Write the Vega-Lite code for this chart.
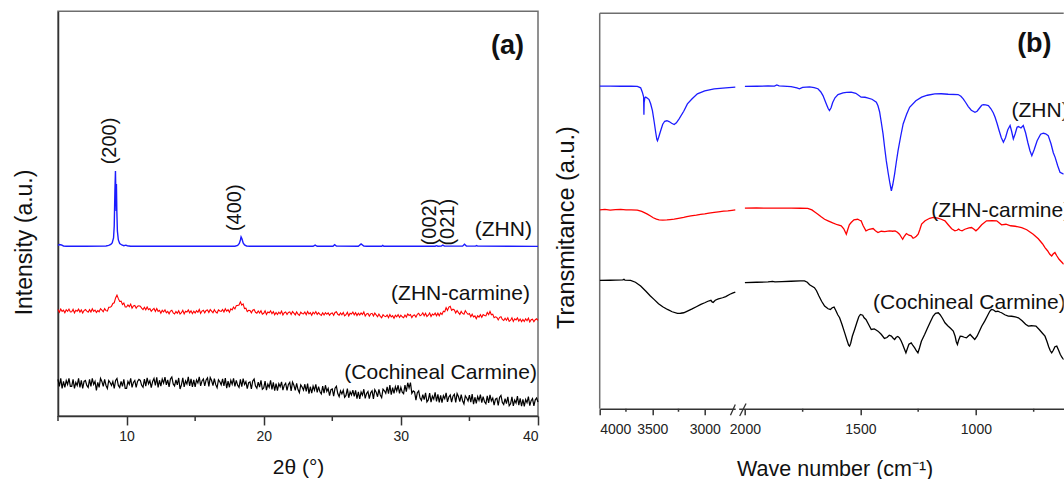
{
"$schema":"https://vega.github.io/schema/vega-lite/v6.json",
"padding":{"left":13,"top":10.25,"right":0,"bottom":0},
"background":"white",
"config":{"font":"Liberation Sans","axis":{"grid":false,"domainColor":"#333","domainWidth":1.5,"tickColor":"#333","tickWidth":1.5,"labelColor":"#222","labelFont":"Liberation Sans","labelFontSize":14,"titleFont":"Liberation Sans","titleFontWeight":"normal","titleColor":"#111"}},
"datasets":{
"xzhn":[{"t":5,"v":170.5},{"t":5.1,"v":171.5},{"t":5.25,"v":171},{"t":5.4,"v":170},{"t":5.6,"v":169.7},{"t":7,"v":169.7},{"t":8.5,"v":170},{"t":8.7,"v":170.5},{"t":8.85,"v":171.5},{"t":8.95,"v":173},{"t":9.05,"v":178},{"t":9.1,"v":190},{"t":9.15,"v":225},{"t":9.19,"v":245},{"t":9.22,"v":220},{"t":9.24,"v":205},{"t":9.26,"v":232},{"t":9.29,"v":205},{"t":9.33,"v":185},{"t":9.4,"v":176},{"t":9.5,"v":172.5},{"t":9.65,"v":171},{"t":9.8,"v":170.3},{"t":9.95,"v":170.8},{"t":10.05,"v":170.2},{"t":10.3,"v":169.7},{"t":17.9,"v":169.7},{"t":18.1,"v":170.5},{"t":18.22,"v":172.5},{"t":18.3,"v":176},{"t":18.35,"v":179},{"t":18.42,"v":177},{"t":18.5,"v":173},{"t":18.6,"v":171},{"t":18.75,"v":170},{"t":19,"v":169.7},{"t":23.6,"v":169.7},{"t":23.75,"v":170.8},{"t":23.9,"v":169.7},{"t":25.05,"v":169.7},{"t":25.17,"v":171.2},{"t":25.3,"v":169.8},{"t":26.9,"v":169.7},{"t":27.1,"v":172},{"t":27.3,"v":170},{"t":27.5,"v":169.7},{"t":28.6,"v":169.7},{"t":28.68,"v":170.5},{"t":28.76,"v":169.7},{"t":32.5,"v":169.7},{"t":32.6,"v":170.3},{"t":32.7,"v":169.7},{"t":32.95,"v":169.8},{"t":33.06,"v":170.8},{"t":33.18,"v":169.8},{"t":34.5,"v":169.8},{"t":34.64,"v":171.8},{"t":34.78,"v":169.9},{"t":35.45,"v":169.8},{"t":35.52,"v":170.4},{"t":35.6,"v":169.8},{"t":40,"v":169.6}],
"xcar":[{"t":5,"v":106.5},{"t":5.1,"v":103.8},{"t":5.2,"v":107},{"t":5.3,"v":104.5},{"t":5.4,"v":105.8},{"t":5.5,"v":103.2},{"t":5.6,"v":106.2},{"t":5.7,"v":104.7},{"t":5.8,"v":106.9},{"t":5.9,"v":104},
{"t":6,"v":104.2},{"t":6.1,"v":106.6},{"t":6.2,"v":103.1},{"t":6.3,"v":105.6},{"t":6.4,"v":104.8},{"t":6.5,"v":106.8},{"t":6.6,"v":103.9},{"t":6.7,"v":106},{"t":6.8,"v":103},{"t":6.9,"v":105.4},
{"t":7,"v":106.5},{"t":7.1,"v":104.8},{"t":7.2,"v":103.7},{"t":7.3,"v":106.3},{"t":7.4,"v":104},{"t":7.5,"v":107.2},{"t":7.6,"v":104.6},{"t":7.7,"v":105.9},{"t":7.8,"v":103.5},{"t":7.9,"v":105.3},
{"t":8,"v":104.2},{"t":8.1,"v":107.3},{"t":8.2,"v":105.8},{"t":8.3,"v":104.2},{"t":8.4,"v":107.3},{"t":8.5,"v":105.3},{"t":8.6,"v":104.8},{"t":8.7,"v":108.7},{"t":8.8,"v":108.7},{"t":8.9,"v":109.6},
{"t":9,"v":112.5},{"t":9.1,"v":113.2},{"t":9.2,"v":118},{"t":9.3,"v":120.8},{"t":9.4,"v":117.3},{"t":9.5,"v":114.5},{"t":9.6,"v":114.8},{"t":9.7,"v":111.4},{"t":9.8,"v":112.9},{"t":9.9,"v":109},
{"t":10,"v":109},{"t":10.1,"v":111},{"t":10.2,"v":109.3},{"t":10.3,"v":111.9},{"t":10.4,"v":107.8},{"t":10.5,"v":109.9},{"t":10.6,"v":110.4},{"t":10.7,"v":107.7},{"t":10.8,"v":109.8},{"t":10.9,"v":110.2},
{"t":11,"v":109.8},{"t":11.1,"v":107.8},{"t":11.2,"v":106.4},{"t":11.3,"v":108.7},{"t":11.4,"v":106.1},{"t":11.5,"v":109},{"t":11.6,"v":106.2},{"t":11.7,"v":107.3},{"t":11.8,"v":104.7},{"t":11.9,"v":106.3},
{"t":12,"v":107.5},{"t":12.1,"v":104.5},{"t":12.2,"v":107.4},{"t":12.3,"v":104.6},{"t":12.4,"v":105.6},{"t":12.5,"v":102.7},{"t":12.6,"v":105.6},{"t":12.7,"v":104},{"t":12.8,"v":106.1},{"t":12.9,"v":103.1},
{"t":13,"v":104.5},{"t":13.1,"v":102.2},{"t":13.2,"v":104.9},{"t":13.3,"v":105.6},{"t":13.4,"v":103},{"t":13.5,"v":102},{"t":13.6,"v":104.4},{"t":13.7,"v":102.6},{"t":13.8,"v":105.2},{"t":13.9,"v":101.9},
{"t":14,"v":103.2},{"t":14.1,"v":105.6},{"t":14.2,"v":102.1},{"t":14.3,"v":104.7},{"t":14.4,"v":103.9},{"t":14.5,"v":106},{"t":14.6,"v":103.1},{"t":14.7,"v":105.2},{"t":14.8,"v":102.3},{"t":14.9,"v":104.8},
{"t":15,"v":103},{"t":15.1,"v":105.2},{"t":15.2,"v":103.7},{"t":15.3,"v":106.5},{"t":15.4,"v":102.6},{"t":15.5,"v":104.9},{"t":15.6,"v":105.6},{"t":15.7,"v":103.1},{"t":15.8,"v":105.4},{"t":15.9,"v":106},
{"t":16,"v":103.4},{"t":16.1,"v":106.4},{"t":16.2,"v":104.9},{"t":16.3,"v":103.2},{"t":16.4,"v":106.2},{"t":16.5,"v":104},{"t":16.6,"v":102.9},{"t":16.7,"v":106},{"t":16.8,"v":104.9},{"t":16.9,"v":104.6},
{"t":17,"v":106.5},{"t":17.1,"v":103.9},{"t":17.2,"v":107.2},{"t":17.3,"v":104.8},{"t":17.4,"v":106.2},{"t":17.5,"v":103.7},{"t":17.6,"v":107.1},{"t":17.7,"v":106.1},{"t":17.8,"v":108.9},{"t":17.9,"v":107},
{"t":18,"v":110.3},{"t":18.1,"v":110.6},{"t":18.2,"v":111},{"t":18.3,"v":114.1},{"t":18.4,"v":110.8},{"t":18.5,"v":112},{"t":18.6,"v":107.4},{"t":18.7,"v":107.7},{"t":18.8,"v":104.3},{"t":18.9,"v":105.6},
{"t":19,"v":105.5},{"t":19.1,"v":103.1},{"t":19.2,"v":105.7},{"t":19.3,"v":106.4},{"t":19.4,"v":103.7},{"t":19.5,"v":102.8},{"t":19.6,"v":104.9},{"t":19.7,"v":102.9},{"t":19.8,"v":105.2},{"t":19.9,"v":101.7},
{"t":20,"v":102.7},{"t":20.1,"v":105.1},{"t":20.2,"v":101.5},{"t":20.3,"v":104},{"t":20.4,"v":103.2},{"t":20.5,"v":105.1},{"t":20.6,"v":102.2},{"t":20.7,"v":104.3},{"t":20.8,"v":101.2},{"t":20.9,"v":103.5},
{"t":21,"v":101.5},{"t":21.1,"v":103.7},{"t":21.2,"v":102.2},{"t":21.3,"v":104.9},{"t":21.4,"v":101},{"t":21.5,"v":103.2},{"t":21.6,"v":103.9},{"t":21.7,"v":101.4},{"t":21.8,"v":103.5},{"t":21.9,"v":104.1},
{"t":22,"v":101.4},{"t":22.1,"v":104.4},{"t":22.2,"v":102.8},{"t":22.3,"v":101.1},{"t":22.4,"v":104},{"t":22.5,"v":101.8},{"t":22.6,"v":100.6},{"t":22.7,"v":103.7},{"t":22.8,"v":102.5},{"t":22.9,"v":102.1},
{"t":23,"v":104},{"t":23.1,"v":101.3},{"t":23.2,"v":104.5},{"t":23.3,"v":102},{"t":23.4,"v":103.3},{"t":23.5,"v":100.7},{"t":23.6,"v":103.7},{"t":23.7,"v":102.2},{"t":23.8,"v":104.4},{"t":23.9,"v":101.5},
{"t":24,"v":103.3},{"t":24.1,"v":101.6},{"t":24.2,"v":100.6},{"t":24.3,"v":103.2},{"t":24.4,"v":101},{"t":24.5,"v":103.2},{"t":24.6,"v":101.7},{"t":24.7,"v":103},{"t":24.8,"v":100.6},{"t":24.9,"v":102.5},
{"t":25,"v":103},{"t":25.1,"v":100.7},{"t":25.2,"v":103.5},{"t":25.3,"v":104.2},{"t":25.4,"v":101.7},{"t":25.5,"v":100.8},{"t":25.6,"v":103},{"t":25.7,"v":101.1},{"t":25.8,"v":103.4},{"t":25.9,"v":100},
{"t":26,"v":101.2},{"t":26.1,"v":103.6},{"t":26.2,"v":100.1},{"t":26.3,"v":102.7},{"t":26.4,"v":101.9},{"t":26.5,"v":103.9},{"t":26.6,"v":101.1},{"t":26.7,"v":103.3},{"t":26.8,"v":100.4},{"t":26.9,"v":102.8},
{"t":27,"v":101},{"t":27.1,"v":103.1},{"t":27.2,"v":101.4},{"t":27.3,"v":104},{"t":27.4,"v":99.9},{"t":27.5,"v":102},{"t":27.6,"v":102.6},{"t":27.7,"v":99.9},{"t":27.8,"v":102.1},{"t":27.9,"v":102.6},
{"t":28,"v":99.9},{"t":28.1,"v":102.8},{"t":28.2,"v":101},{"t":28.3,"v":99.2},{"t":28.4,"v":101.9},{"t":28.5,"v":99.6},{"t":28.6,"v":98.2},{"t":28.7,"v":101.2},{"t":28.8,"v":99.8},{"t":28.9,"v":99.3},
{"t":29,"v":101},{"t":29.1,"v":98.3},{"t":29.2,"v":101.5},{"t":29.3,"v":99},{"t":29.4,"v":100.3},{"t":29.5,"v":97.7},{"t":29.6,"v":100.7},{"t":29.7,"v":99.2},{"t":29.8,"v":101.4},{"t":29.9,"v":98.5},
{"t":30,"v":100.8},{"t":30.1,"v":99.2},{"t":30.2,"v":98.2},{"t":30.3,"v":100.9},{"t":30.4,"v":98.9},{"t":30.5,"v":102},{"t":30.6,"v":100.5},{"t":30.7,"v":101.4},{"t":30.8,"v":98.3},{"t":30.9,"v":100.5},
{"t":31,"v":101},{"t":31.1,"v":98.8},{"t":31.2,"v":101.7},{"t":31.3,"v":102.6},{"t":31.4,"v":100.2},{"t":31.5,"v":101},{"t":31.6,"v":103.1},{"t":31.7,"v":100.2},{"t":31.8,"v":102.7},{"t":31.9,"v":99.4},
{"t":32,"v":100.7},{"t":32.1,"v":103},{"t":32.2,"v":99.4},{"t":32.3,"v":101.8},{"t":32.4,"v":100.9},{"t":32.5,"v":102.8},{"t":32.6,"v":100.2},{"t":32.7,"v":102.7},{"t":32.8,"v":100.2},{"t":32.9,"v":103},
{"t":33,"v":101.5},{"t":33.1,"v":104.7},{"t":33.2,"v":104.2},{"t":33.3,"v":108.3},{"t":33.4,"v":105.6},{"t":33.5,"v":108.9},{"t":33.6,"v":109.6},{"t":33.7,"v":105.6},{"t":33.8,"v":106.7},{"t":33.9,"v":106},
{"t":34,"v":102.9},{"t":34.1,"v":105.4},{"t":34.2,"v":103.3},{"t":34.3,"v":101.6},{"t":34.4,"v":104.5},{"t":34.5,"v":102.5},{"t":34.6,"v":101.7},{"t":34.7,"v":105.2},{"t":34.8,"v":103.2},{"t":34.9,"v":101.6},
{"t":35,"v":102.5},{"t":35.1,"v":99.3},{"t":35.2,"v":101.8},{"t":35.3,"v":99},{"t":35.4,"v":100},{"t":35.5,"v":97.2},{"t":35.6,"v":100.2},{"t":35.7,"v":98.9},{"t":35.8,"v":101.3},{"t":35.9,"v":98.7},
{"t":36,"v":101.3},{"t":36.1,"v":100.4},{"t":36.2,"v":100},{"t":36.3,"v":103.4},{"t":36.4,"v":101.3},{"t":36.5,"v":104.5},{"t":36.6,"v":101.2},{"t":36.7,"v":101.7},{"t":36.8,"v":98.3},{"t":36.9,"v":99.1},
{"t":37,"v":98.5},{"t":37.1,"v":96},{"t":37.2,"v":98.6},{"t":37.3,"v":99.2},{"t":37.4,"v":96.5},{"t":37.5,"v":95.5},{"t":37.6,"v":97.7},{"t":37.7,"v":95.7},{"t":37.8,"v":98.1},{"t":37.9,"v":94.6},
{"t":38,"v":95.7},{"t":38.1,"v":98.1},{"t":38.2,"v":94.5},{"t":38.3,"v":97.1},{"t":38.4,"v":96.1},{"t":38.5,"v":98.1},{"t":38.6,"v":94.9},{"t":38.7,"v":96.9},{"t":38.8,"v":94.3},{"t":38.9,"v":96.5},
{"t":39,"v":94.5},{"t":39.1,"v":97.2},{"t":39.2,"v":95.2},{"t":39.3,"v":97.9},{"t":39.4,"v":94},{"t":39.5,"v":96.2},{"t":39.6,"v":96.8},{"t":39.7,"v":94.3},{"t":39.8,"v":96.2},{"t":39.9,"v":97.1},{"t":40,"v":95.5}],
"xcoc":[{"t":5,"v":36.5},{"t":5.1,"v":29.5},{"t":5.2,"v":37.5},{"t":5.3,"v":27.5},{"t":5.4,"v":34.5},{"t":5.5,"v":28.5},{"t":5.6,"v":35.5},{"t":5.7,"v":31.5},{"t":5.8,"v":37.5},{"t":5.9,"v":29.5},
{"t":6,"v":29.5},{"t":6.1,"v":36.5},{"t":6.2,"v":27.5},{"t":6.3,"v":33.5},{"t":6.4,"v":30.5},{"t":6.5,"v":37.5},{"t":6.6,"v":28.5},{"t":6.7,"v":35.5},{"t":6.8,"v":27.5},{"t":6.9,"v":34.5},
{"t":7,"v":35.5},{"t":7.1,"v":30.5},{"t":7.2,"v":28.5},{"t":7.3,"v":36.5},{"t":7.4,"v":29.5},{"t":7.5,"v":37.5},{"t":7.6,"v":31.5},{"t":7.7,"v":34.5},{"t":7.8,"v":25.5},{"t":7.9,"v":33.5},
{"t":8,"v":28.5},{"t":8.1,"v":37.5},{"t":8.2,"v":34.5},{"t":8.3,"v":29.5},{"t":8.4,"v":36.5},{"t":8.5,"v":30.5},{"t":8.6,"v":27.5},{"t":8.7,"v":35.5},{"t":8.8,"v":33.5},{"t":8.9,"v":30.5},
{"t":9,"v":34.5},{"t":9.1,"v":27.5},{"t":9.2,"v":35.5},{"t":9.3,"v":37.5},{"t":9.4,"v":30.5},{"t":9.5,"v":28.5},{"t":9.6,"v":34.5},{"t":9.7,"v":29.5},{"t":9.8,"v":36.5},{"t":9.9,"v":27.5},
{"t":10,"v":27.5},{"t":10.1,"v":34.5},{"t":10.2,"v":31.5},{"t":10.3,"v":37.5},{"t":10.4,"v":28.5},{"t":10.5,"v":33.5},{"t":10.6,"v":35.5},{"t":10.7,"v":28.5},{"t":10.8,"v":34.5},{"t":10.9,"v":36.5},
{"t":11,"v":35.5},{"t":11.1,"v":30.6},{"t":11.2,"v":28.7},{"t":11.3,"v":36.8},{"t":11.4,"v":29.9},{"t":11.5,"v":38},{"t":11.6,"v":32.1},{"t":11.7,"v":35.2},{"t":11.8,"v":28.3},{"t":11.9,"v":34.4},
{"t":12,"v":37.5},{"t":12.1,"v":30.6},{"t":12.2,"v":38.6},{"t":12.3,"v":28.6},{"t":12.4,"v":35.7},{"t":12.5,"v":29.8},{"t":12.6,"v":36.8},{"t":12.7,"v":32.8},{"t":12.8,"v":38.9},{"t":12.9,"v":31},
{"t":13,"v":36},{"t":13.1,"v":29},{"t":13.2,"v":37},{"t":13.3,"v":39},{"t":13.4,"v":32},{"t":13.5,"v":30},{"t":13.6,"v":36},{"t":13.7,"v":31},{"t":13.8,"v":38},{"t":13.9,"v":27},
{"t":14,"v":31},{"t":14.1,"v":38},{"t":14.2,"v":29},{"t":14.3,"v":35},{"t":14.4,"v":32},{"t":14.5,"v":39},{"t":14.6,"v":30},{"t":14.7,"v":37},{"t":14.8,"v":29},{"t":14.9,"v":36},
{"t":15,"v":29},{"t":15.1,"v":36},{"t":15.2,"v":33},{"t":15.3,"v":39},{"t":15.4,"v":30},{"t":15.5,"v":35},{"t":15.6,"v":37},{"t":15.7,"v":30},{"t":15.8,"v":36},{"t":15.9,"v":38},
{"t":16,"v":29.5},{"t":16.1,"v":38.4},{"t":16.2,"v":35.4},{"t":16.3,"v":30.3},{"t":16.4,"v":37.3},{"t":16.5,"v":31.3},{"t":16.6,"v":28.3},{"t":16.7,"v":36.2},{"t":16.8,"v":34.2},{"t":16.9,"v":31.1},
{"t":17,"v":37},{"t":17.1,"v":30},{"t":17.2,"v":37.9},{"t":17.3,"v":27.9},{"t":17.4,"v":34.8},{"t":17.5,"v":28.7},{"t":17.6,"v":35.7},{"t":17.7,"v":31.7},{"t":17.8,"v":37.6},{"t":17.9,"v":29.6},
{"t":18,"v":35.6},{"t":18.1,"v":30.6},{"t":18.2,"v":28.5},{"t":18.3,"v":36.5},{"t":18.4,"v":29.4},{"t":18.5,"v":37.4},{"t":18.6,"v":31.4},{"t":18.7,"v":34.3},{"t":18.8,"v":27.3},{"t":18.9,"v":33.2},
{"t":19,"v":34},{"t":19.1,"v":27},{"t":19.2,"v":35},{"t":19.3,"v":36.9},{"t":19.4,"v":29.9},{"t":19.5,"v":27.8},{"t":19.6,"v":33.8},{"t":19.7,"v":28.8},{"t":19.8,"v":35.7},{"t":19.9,"v":26.7},
{"t":20,"v":28},{"t":20.1,"v":34.9},{"t":20.2,"v":25.9},{"t":20.3,"v":31.8},{"t":20.4,"v":28.7},{"t":20.5,"v":35.7},{"t":20.6,"v":26.6},{"t":20.7,"v":33.5},{"t":20.8,"v":25.4},{"t":20.9,"v":32.4},
{"t":21,"v":25.3},{"t":21.1,"v":32.2},{"t":21.2,"v":29.1},{"t":21.3,"v":34},{"t":21.4,"v":25.9},{"t":21.5,"v":30.8},{"t":21.6,"v":32.7},{"t":21.7,"v":25.6},{"t":21.8,"v":31.5},{"t":21.9,"v":33.6},
{"t":22,"v":25},{"t":22.1,"v":33.9},{"t":22.2,"v":30.7},{"t":22.3,"v":25.6},{"t":22.4,"v":32.5},{"t":22.5,"v":26.4},{"t":22.6,"v":23.2},{"t":22.7,"v":31.1},{"t":22.8,"v":29},{"t":22.9,"v":25.8},
{"t":23,"v":31.7},{"t":23.1,"v":24.6},{"t":23.2,"v":32.4},{"t":23.3,"v":22.3},{"t":23.4,"v":29.2},{"t":23.5,"v":22.9},{"t":23.6,"v":29.8},{"t":23.7,"v":25.7},{"t":23.8,"v":31.6},{"t":23.9,"v":23.5},
{"t":24,"v":29.3},{"t":24.1,"v":24.2},{"t":24.2,"v":22},{"t":24.3,"v":29.9},{"t":24.4,"v":22.8},{"t":24.5,"v":30.7},{"t":24.6,"v":24.6},{"t":24.7,"v":27.5},{"t":24.8,"v":20.4},{"t":24.9,"v":26.2},
{"t":25,"v":27},{"t":25.1,"v":19.9},{"t":25.2,"v":27.7},{"t":25.3,"v":29.6},{"t":25.4,"v":22.4},{"t":25.5,"v":19.3},{"t":25.6,"v":25.1},{"t":25.7,"v":22},{"t":25.8,"v":25.8},{"t":25.9,"v":18.7},
{"t":26,"v":20.5},{"t":26.1,"v":27.4},{"t":26.2,"v":18.2},{"t":26.3,"v":24.1},{"t":26.4,"v":20.9},{"t":26.5,"v":25.8},{"t":26.6,"v":19.6},{"t":26.7,"v":25.5},{"t":26.8,"v":17.3},{"t":26.9,"v":24.2},
{"t":27,"v":17},{"t":27.1,"v":23.9},{"t":27.2,"v":20.8},{"t":27.3,"v":26.7},{"t":27.4,"v":17.6},{"t":27.5,"v":22.5},{"t":27.6,"v":24.4},{"t":27.7,"v":17.3},{"t":27.8,"v":23.2},{"t":27.9,"v":25.1},
{"t":28,"v":17},{"t":28.1,"v":26.4},{"t":28.2,"v":23.8},{"t":28.3,"v":19.2},{"t":28.4,"v":26.6},{"t":28.5,"v":21},{"t":28.6,"v":18.4},{"t":28.7,"v":26.8},{"t":28.8,"v":25.2},{"t":28.9,"v":22.6},
{"t":29,"v":29},{"t":29.1,"v":22.4},{"t":29.2,"v":30.8},{"t":29.3,"v":21.2},{"t":29.4,"v":28.4},{"t":29.5,"v":22.5},{"t":29.6,"v":29.3},{"t":29.7,"v":25},{"t":29.8,"v":30.7},{"t":29.9,"v":22.6},
{"t":30,"v":28.5},{"t":30.1,"v":23.8},{"t":30.2,"v":22.3},{"t":30.3,"v":30.8},{"t":30.4,"v":24.4},{"t":30.5,"v":33.2},{"t":30.6,"v":28},{"t":30.7,"v":33.3},{"t":30.8,"v":22.5},{"t":30.9,"v":25},
{"t":31,"v":24},{"t":31.1,"v":15.8},{"t":31.2,"v":23.2},{"t":31.3,"v":25},{"t":31.4,"v":17.8},{"t":31.5,"v":15.6},{"t":31.6,"v":21.4},{"t":31.7,"v":16.3},{"t":31.8,"v":23.2},{"t":31.9,"v":14.1},
{"t":32,"v":16},{"t":32.1,"v":22.9},{"t":32.2,"v":13.9},{"t":32.3,"v":19.8},{"t":32.4,"v":16.8},{"t":32.5,"v":23.7},{"t":32.6,"v":14.6},{"t":32.7,"v":21.6},{"t":32.8,"v":13.5},{"t":32.9,"v":20.5},
{"t":33,"v":13.3},{"t":33.1,"v":20.2},{"t":33.2,"v":17.2},{"t":33.3,"v":23.1},{"t":33.4,"v":14.1},{"t":33.5,"v":19},{"t":33.6,"v":20.9},{"t":33.7,"v":13.9},{"t":33.8,"v":19.8},{"t":33.9,"v":21.7},
{"t":34,"v":13.5},{"t":34.1,"v":22.4},{"t":34.2,"v":19.4},{"t":34.3,"v":14.3},{"t":34.4,"v":21.3},{"t":34.5,"v":15.2},{"t":34.6,"v":12.1},{"t":34.7,"v":20.1},{"t":34.8,"v":18},{"t":34.9,"v":15},
{"t":35,"v":20.9},{"t":35.1,"v":13.8},{"t":35.2,"v":21.8},{"t":35.3,"v":11.7},{"t":35.4,"v":18.7},{"t":35.5,"v":12.6},{"t":35.6,"v":19.5},{"t":35.7,"v":15.5},{"t":35.8,"v":21.4},{"t":35.9,"v":13.4},
{"t":36,"v":19.3},{"t":36.1,"v":14.2},{"t":36.2,"v":12.2},{"t":36.3,"v":20.1},{"t":36.4,"v":13.1},{"t":36.5,"v":21},{"t":36.6,"v":15},{"t":36.7,"v":17.9},{"t":36.8,"v":10.8},{"t":36.9,"v":16.8},
{"t":37,"v":17.7},{"t":37.1,"v":10.6},{"t":37.2,"v":18.6},{"t":37.3,"v":20.5},{"t":37.4,"v":13.5},{"t":37.5,"v":11.4},{"t":37.6,"v":17.3},{"t":37.7,"v":12.3},{"t":37.8,"v":19.2},{"t":37.9,"v":10.2},
{"t":38,"v":12.1},{"t":38.1,"v":19},{"t":38.2,"v":10},{"t":38.3,"v":15.9},{"t":38.4,"v":12.9},{"t":38.5,"v":19.8},{"t":38.6,"v":10.8},{"t":38.7,"v":17.7},{"t":38.8,"v":9.7},{"t":38.9,"v":16.6},
{"t":39,"v":9.5},{"t":39.1,"v":16.4},{"t":39.2,"v":13.3},{"t":39.3,"v":19.3},{"t":39.4,"v":10.3},{"t":39.5,"v":15.3},{"t":39.6,"v":17.3},{"t":39.7,"v":10.1},{"t":39.8,"v":16.1},{"t":39.9,"v":18},{"t":40,"v":14}],
"fzhn":[{"w":4000,"v":322.6,"g":"L"},{"w":3900,"v":322.7,"g":"L"},{"w":3800,"v":322.5,"g":"L"},{"w":3700,"v":322.6,"g":"L"},{"w":3642,"v":322.4,"g":"L"},{"w":3625,"v":321.6,"g":"L"},{"w":3610,"v":320.9,"g":"L"},{"w":3594,"v":316.6,"g":"L"},{"w":3582,"v":312,"g":"L"},{"w":3579,"v":294,"g":"L"},{"w":3577,"v":306,"g":"L"},{"w":3570,"v":311,"g":"L"},{"w":3562,"v":311.6,"g":"L"},{"w":3545,"v":310.5,"g":"L"},{"w":3530,"v":309.2,"g":"L"},{"w":3515,"v":305,"g":"L"},{"w":3498,"v":298.2,"g":"L"},{"w":3480,"v":286,"g":"L"},{"w":3467,"v":276.5,"g":"L"},{"w":3456,"v":269.5,"g":"L"},{"w":3450,"v":268.1,"g":"L"},{"w":3440,"v":271,"g":"L"},{"w":3419,"v":278.2,"g":"L"},{"w":3400,"v":284.5,"g":"L"},{"w":3381,"v":287.5,"g":"L"},{"w":3360,"v":288,"g":"L"},{"w":3339,"v":287.2,"g":"L"},{"w":3315,"v":285.5,"g":"L"},{"w":3291,"v":284.2,"g":"L"},{"w":3270,"v":286,"g":"L"},{"w":3244,"v":289.9,"g":"L"},{"w":3200,"v":297.5,"g":"L"},{"w":3165,"v":304.9,"g":"L"},{"w":3120,"v":310,"g":"L"},{"w":3070,"v":314.9,"g":"L"},{"w":3000,"v":317.8,"g":"L"},{"w":2910,"v":319.9,"g":"L"},{"w":2800,"v":320.8,"g":"L"},{"w":2709,"v":321.6,"g":"L"},
{"w":2000,"v":322.3,"g":"R"},{"w":1950,"v":322.5,"g":"R"},{"w":1900,"v":322.8,"g":"R"},{"w":1872,"v":322.6,"g":"R"},{"w":1862,"v":323.8,"g":"R"},{"w":1852,"v":322.8,"g":"R"},{"w":1800,"v":322.2,"g":"R"},{"w":1775,"v":320.8,"g":"R"},{"w":1764,"v":319.9,"g":"R"},{"w":1750,"v":321.3,"g":"R"},{"w":1720,"v":321.8,"g":"R"},{"w":1700,"v":321.2,"g":"R"},{"w":1684,"v":320,"g":"R"},{"w":1672,"v":317,"g":"R"},{"w":1662,"v":313.2,"g":"R"},{"w":1648,"v":305,"g":"R"},{"w":1640,"v":300.5,"g":"R"},{"w":1634,"v":298.2,"g":"R"},{"w":1627,"v":301,"g":"R"},{"w":1620,"v":306.2,"g":"R"},{"w":1610,"v":311,"g":"R"},{"w":1597,"v":314.2,"g":"R"},{"w":1575,"v":315.8,"g":"R"},{"w":1560,"v":316.4,"g":"R"},{"w":1540,"v":316.6,"g":"R"},{"w":1520,"v":315.5,"g":"R"},{"w":1505,"v":313,"g":"R"},{"w":1497,"v":311.6,"g":"R"},{"w":1480,"v":311.5,"g":"R"},{"w":1470,"v":310.9,"g":"R"},{"w":1450,"v":309.5,"g":"R"},{"w":1431,"v":306.6,"g":"R"},{"w":1424,"v":303,"g":"R"},{"w":1417,"v":297,"g":"R"},{"w":1410,"v":287,"g":"R"},{"w":1402,"v":274.8,"g":"R"},{"w":1395,"v":261,"g":"R"},{"w":1388,"v":248.1,"g":"R"},{"w":1380,"v":236,"g":"R"},{"w":1372,"v":225,"g":"R"},{"w":1366,"v":218,"g":"R"},{"w":1360,"v":224,"g":"R"},{"w":1352,"v":234.7,"g":"R"},{"w":1345,"v":246,"g":"R"},{"w":1337,"v":258.1,"g":"R"},{"w":1326,"v":272,"g":"R"},{"w":1315,"v":284.8,"g":"R"},{"w":1300,"v":294.5,"g":"R"},{"w":1287,"v":301.5,"g":"R"},{"w":1260,"v":308,"g":"R"},{"w":1235,"v":311.6,"g":"R"},{"w":1210,"v":313.5,"g":"R"},{"w":1178,"v":314.9,"g":"R"},{"w":1150,"v":315,"g":"R"},{"w":1120,"v":314.5,"g":"R"},{"w":1077,"v":314.2,"g":"R"},{"w":1065,"v":312.5,"g":"R"},{"w":1055,"v":309.9,"g":"R"},{"w":1045,"v":306.5,"g":"R"},{"w":1033,"v":302.2,"g":"R"},{"w":1020,"v":298.5,"g":"R"},{"w":1004,"v":296.5,"g":"R"},{"w":995,"v":297.5,"g":"R"},{"w":985,"v":300.5,"g":"R"},{"w":975,"v":303.5,"g":"R"},{"w":968,"v":304.2,"g":"R"},{"w":958,"v":303.8,"g":"R"},{"w":946,"v":303.2,"g":"R"},{"w":935,"v":300,"g":"R"},{"w":925,"v":296,"g":"R"},{"w":917,"v":291.5,"g":"R"},{"w":908,"v":285,"g":"R"},{"w":900,"v":278.5,"g":"R"},{"w":890,"v":271,"g":"R"},{"w":881,"v":266.5,"g":"R"},{"w":872,"v":271,"g":"R"},{"w":862,"v":279,"g":"R"},{"w":852,"v":283.2,"g":"R"},{"w":846,"v":278,"g":"R"},{"w":838,"v":269.8,"g":"R"},{"w":830,"v":275,"g":"R"},{"w":822,"v":281.5,"g":"R"},{"w":816,"v":282.2,"g":"R"},{"w":805,"v":280.8,"g":"R"},{"w":795,"v":283.2,"g":"R"},{"w":785,"v":276,"g":"R"},{"w":775,"v":266,"g":"R"},{"w":766,"v":258,"g":"R"},{"w":758,"v":253.1,"g":"R"},{"w":748,"v":259,"g":"R"},{"w":735,"v":268,"g":"R"},{"w":720,"v":274.5,"g":"R"},{"w":708,"v":275.5,"g":"R"},{"w":698,"v":275,"g":"R"},{"w":687,"v":273.1,"g":"R"},{"w":675,"v":265,"g":"R"},{"w":665,"v":256,"g":"R"},{"w":657,"v":251.4,"g":"R"},{"w":646,"v":243,"g":"R"},{"w":636,"v":236.5,"g":"R"},{"w":620,"v":234.7,"g":"R"}],
"fcar":[{"w":4000,"v":198.9,"g":"L"},{"w":3950,"v":199.3,"g":"L"},{"w":3900,"v":198.7,"g":"L"},{"w":3850,"v":199.1,"g":"L"},{"w":3800,"v":199.3,"g":"L"},{"w":3750,"v":198.8,"g":"L"},{"w":3700,"v":198.9,"g":"L"},{"w":3642,"v":198.7,"g":"L"},{"w":3600,"v":197.3,"g":"L"},{"w":3570,"v":195.8,"g":"L"},{"w":3546,"v":194.6,"g":"L"},{"w":3520,"v":193,"g":"L"},{"w":3490,"v":191,"g":"L"},{"w":3460,"v":189.6,"g":"L"},{"w":3435,"v":188.9,"g":"L"},{"w":3400,"v":188.6,"g":"L"},{"w":3360,"v":188.9,"g":"L"},{"w":3330,"v":189.2,"g":"L"},{"w":3291,"v":189.6,"g":"L"},{"w":3250,"v":190.4,"g":"L"},{"w":3200,"v":191.3,"g":"L"},{"w":3170,"v":192.1,"g":"L"},{"w":3132,"v":192.9,"g":"L"},{"w":3080,"v":193.6,"g":"L"},{"w":3040,"v":194.3,"g":"L"},{"w":3000,"v":194.8,"g":"L"},{"w":2960,"v":195.6,"g":"L"},{"w":2910,"v":196.3,"g":"L"},{"w":2870,"v":196.9,"g":"L"},{"w":2820,"v":197.6,"g":"L"},{"w":2780,"v":197.8,"g":"L"},{"w":2740,"v":198.4,"g":"L"},{"w":2709,"v":198.9,"g":"L"},
{"w":2000,"v":200.6,"g":"R"},{"w":1950,"v":200.8,"g":"R"},{"w":1900,"v":200.6,"g":"R"},{"w":1850,"v":200.7,"g":"R"},{"w":1800,"v":200.6,"g":"R"},{"w":1760,"v":200.5,"g":"R"},{"w":1728,"v":200.4,"g":"R"},{"w":1710,"v":198.8,"g":"R"},{"w":1696,"v":196.5,"g":"R"},{"w":1684,"v":194.6,"g":"R"},{"w":1670,"v":192,"g":"R"},{"w":1655,"v":189.5,"g":"R"},{"w":1640,"v":187.9,"g":"R"},{"w":1620,"v":185.8,"g":"R"},{"w":1600,"v":184,"g":"R"},{"w":1583,"v":182.9,"g":"R"},{"w":1572,"v":180,"g":"R"},{"w":1565,"v":176.5,"g":"R"},{"w":1561,"v":174.5,"g":"R"},{"w":1555,"v":179,"g":"R"},{"w":1548,"v":184,"g":"R"},{"w":1540,"v":186.2,"g":"R"},{"w":1528,"v":189,"g":"R"},{"w":1512,"v":189.5,"g":"R"},{"w":1503,"v":188.5,"g":"R"},{"w":1497,"v":187.9,"g":"R"},{"w":1488,"v":183,"g":"R"},{"w":1476,"v":177.9,"g":"R"},{"w":1462,"v":179.5,"g":"R"},{"w":1445,"v":180.2,"g":"R"},{"w":1435,"v":178,"g":"R"},{"w":1424,"v":176.2,"g":"R"},{"w":1410,"v":177.5,"g":"R"},{"w":1395,"v":177.2,"g":"R"},{"w":1374,"v":177.9,"g":"R"},{"w":1360,"v":177.5,"g":"R"},{"w":1350,"v":177.9,"g":"R"},{"w":1340,"v":176.5,"g":"R"},{"w":1331,"v":174.5,"g":"R"},{"w":1324,"v":172,"g":"R"},{"w":1317,"v":169.5,"g":"R"},{"w":1310,"v":172.5,"g":"R"},{"w":1301,"v":175.2,"g":"R"},{"w":1290,"v":173.5,"g":"R"},{"w":1280,"v":172.9,"g":"R"},{"w":1272,"v":170.5,"g":"R"},{"w":1265,"v":171.2,"g":"R"},{"w":1258,"v":172.5,"g":"R"},{"w":1250,"v":174.5,"g":"R"},{"w":1243,"v":179,"g":"R"},{"w":1235,"v":184.6,"g":"R"},{"w":1220,"v":188,"g":"R"},{"w":1200,"v":190.5,"g":"R"},{"w":1185,"v":191.3,"g":"R"},{"w":1165,"v":190.6,"g":"R"},{"w":1150,"v":189.5,"g":"R"},{"w":1134,"v":187.9,"g":"R"},{"w":1120,"v":184,"g":"R"},{"w":1105,"v":180,"g":"R"},{"w":1091,"v":177.9,"g":"R"},{"w":1082,"v":178.5,"g":"R"},{"w":1075,"v":179.6,"g":"R"},{"w":1068,"v":178.5,"g":"R"},{"w":1060,"v":177.9,"g":"R"},{"w":1048,"v":179.5,"g":"R"},{"w":1030,"v":180.8,"g":"R"},{"w":1019,"v":181.2,"g":"R"},{"w":1008,"v":179.5,"g":"R"},{"w":1000,"v":177.9,"g":"R"},{"w":990,"v":180,"g":"R"},{"w":975,"v":184,"g":"R"},{"w":954,"v":187.9,"g":"R"},{"w":930,"v":188.2,"g":"R"},{"w":910,"v":187.9,"g":"R"},{"w":889,"v":183.9,"g":"R"},{"w":870,"v":184.5,"g":"R"},{"w":850,"v":183,"g":"R"},{"w":830,"v":182.5,"g":"R"},{"w":802,"v":181.2,"g":"R"},{"w":780,"v":179,"g":"R"},{"w":752,"v":174.5,"g":"R"},{"w":730,"v":170,"g":"R"},{"w":712,"v":165,"g":"R"},{"w":701,"v":161.2,"g":"R"},{"w":690,"v":158,"g":"R"},{"w":680,"v":154.5,"g":"R"},{"w":672,"v":152.8,"g":"R"},{"w":665,"v":155,"g":"R"},{"w":658,"v":156.2,"g":"R"},{"w":650,"v":153,"g":"R"},{"w":640,"v":149.5,"g":"R"},{"w":630,"v":147,"g":"R"},{"w":620,"v":144.5,"g":"R"}],
"fcoc":[{"w":4000,"v":128.4,"g":"L"},{"w":3900,"v":128.5,"g":"L"},{"w":3850,"v":128.6,"g":"L"},{"w":3780,"v":128.8,"g":"L"},{"w":3769,"v":129.4,"g":"L"},{"w":3760,"v":128.7,"g":"L"},{"w":3706,"v":128.4,"g":"L"},{"w":3660,"v":126.5,"g":"L"},{"w":3610,"v":122.8,"g":"L"},{"w":3560,"v":117.5,"g":"L"},{"w":3520,"v":113,"g":"L"},{"w":3483,"v":109.4,"g":"L"},{"w":3440,"v":105,"g":"L"},{"w":3400,"v":102,"g":"L"},{"w":3355,"v":99.3,"g":"L"},{"w":3310,"v":97,"g":"L"},{"w":3260,"v":95.3,"g":"L"},{"w":3230,"v":95.5,"g":"L"},{"w":3200,"v":96,"g":"L"},{"w":3165,"v":97.7,"g":"L"},{"w":3120,"v":99.8,"g":"L"},{"w":3080,"v":102,"g":"L"},{"w":3037,"v":104.4,"g":"L"},{"w":3000,"v":106,"g":"L"},{"w":2970,"v":107.5,"g":"L"},{"w":2941,"v":108.4,"g":"L"},{"w":2930,"v":106.8,"g":"L"},{"w":2920,"v":106.3,"g":"L"},{"w":2900,"v":108.5,"g":"L"},{"w":2870,"v":109.8,"g":"L"},{"w":2830,"v":111,"g":"L"},{"w":2800,"v":112.2,"g":"L"},{"w":2760,"v":114.5,"g":"L"},{"w":2730,"v":115.8,"g":"L"},{"w":2709,"v":116.7,"g":"L"},
{"w":2000,"v":126.1,"g":"R"},{"w":1950,"v":126.5,"g":"R"},{"w":1900,"v":126.8,"g":"R"},{"w":1880,"v":127.3,"g":"R"},{"w":1870,"v":126.9,"g":"R"},{"w":1840,"v":127.2,"g":"R"},{"w":1800,"v":127.5,"g":"R"},{"w":1760,"v":127.8,"g":"R"},{"w":1742,"v":127.8,"g":"R"},{"w":1730,"v":126.5,"g":"R"},{"w":1720,"v":124,"g":"R"},{"w":1699,"v":121.1,"g":"R"},{"w":1690,"v":118,"g":"R"},{"w":1680,"v":113,"g":"R"},{"w":1668,"v":107.5,"g":"R"},{"w":1655,"v":102.7,"g":"R"},{"w":1640,"v":100,"g":"R"},{"w":1630,"v":99.3,"g":"R"},{"w":1622,"v":101,"g":"R"},{"w":1614,"v":101.7,"g":"R"},{"w":1605,"v":97.5,"g":"R"},{"w":1598,"v":94,"g":"R"},{"w":1590,"v":91,"g":"R"},{"w":1580,"v":84.5,"g":"R"},{"w":1568,"v":75.9,"g":"R"},{"w":1558,"v":68.5,"g":"R"},{"w":1551,"v":63.5,"g":"R"},{"w":1547,"v":62.6,"g":"R"},{"w":1542,"v":65.5,"g":"R"},{"w":1535,"v":72.5,"g":"R"},{"w":1525,"v":79.3,"g":"R"},{"w":1515,"v":86.5,"g":"R"},{"w":1507,"v":92,"g":"R"},{"w":1500,"v":94.3,"g":"R"},{"w":1490,"v":93.5,"g":"R"},{"w":1484,"v":91,"g":"R"},{"w":1476,"v":89.3,"g":"R"},{"w":1465,"v":84.5,"g":"R"},{"w":1453,"v":79.3,"g":"R"},{"w":1440,"v":79.8,"g":"R"},{"w":1432,"v":78.8,"g":"R"},{"w":1424,"v":77.6,"g":"R"},{"w":1410,"v":74.5,"g":"R"},{"w":1396,"v":70.3,"g":"R"},{"w":1385,"v":71.2,"g":"R"},{"w":1375,"v":73.5,"g":"R"},{"w":1366,"v":72.6,"g":"R"},{"w":1358,"v":70.5,"g":"R"},{"w":1352,"v":69.3,"g":"R"},{"w":1345,"v":71.5,"g":"R"},{"w":1338,"v":72.3,"g":"R"},{"w":1331,"v":70.9,"g":"R"},{"w":1324,"v":68,"g":"R"},{"w":1317,"v":64.3,"g":"R"},{"w":1310,"v":60,"g":"R"},{"w":1303,"v":55.9,"g":"R"},{"w":1297,"v":60,"g":"R"},{"w":1290,"v":64.5,"g":"R"},{"w":1280,"v":65.9,"g":"R"},{"w":1272,"v":63,"g":"R"},{"w":1265,"v":60.9,"g":"R"},{"w":1258,"v":58,"g":"R"},{"w":1251,"v":55.9,"g":"R"},{"w":1244,"v":61,"g":"R"},{"w":1236,"v":67.5,"g":"R"},{"w":1222,"v":74.3,"g":"R"},{"w":1210,"v":80.5,"g":"R"},{"w":1197,"v":87,"g":"R"},{"w":1185,"v":92.7,"g":"R"},{"w":1175,"v":95.5,"g":"R"},{"w":1163,"v":96,"g":"R"},{"w":1155,"v":94,"g":"R"},{"w":1145,"v":90.5,"g":"R"},{"w":1134,"v":86,"g":"R"},{"w":1122,"v":83,"g":"R"},{"w":1110,"v":80.5,"g":"R"},{"w":1098,"v":77.6,"g":"R"},{"w":1090,"v":72.5,"g":"R"},{"w":1085,"v":67,"g":"R"},{"w":1080,"v":64.3,"g":"R"},{"w":1075,"v":68.5,"g":"R"},{"w":1068,"v":72.6,"g":"R"},{"w":1060,"v":72.3,"g":"R"},{"w":1050,"v":71.5,"g":"R"},{"w":1041,"v":70.9,"g":"R"},{"w":1034,"v":72.5,"g":"R"},{"w":1025,"v":74.3,"g":"R"},{"w":1016,"v":72,"g":"R"},{"w":1005,"v":69.3,"g":"R"},{"w":995,"v":72.5,"g":"R"},{"w":985,"v":77.5,"g":"R"},{"w":975,"v":82.5,"g":"R"},{"w":962,"v":87.6,"g":"R"},{"w":950,"v":93,"g":"R"},{"w":940,"v":97.5,"g":"R"},{"w":933,"v":99.3,"g":"R"},{"w":925,"v":99,"g":"R"},{"w":915,"v":97.2,"g":"R"},{"w":905,"v":97.5,"g":"R"},{"w":895,"v":96.5,"g":"R"},{"w":889,"v":96,"g":"R"},{"w":875,"v":94,"g":"R"},{"w":860,"v":92.7,"g":"R"},{"w":845,"v":92.5,"g":"R"},{"w":830,"v":91.8,"g":"R"},{"w":816,"v":91,"g":"R"},{"w":800,"v":88,"g":"R"},{"w":785,"v":84.5,"g":"R"},{"w":773,"v":82.6,"g":"R"},{"w":760,"v":83,"g":"R"},{"w":750,"v":82.8,"g":"R"},{"w":740,"v":82.6,"g":"R"},{"w":725,"v":79,"g":"R"},{"w":712,"v":75.5,"g":"R"},{"w":701,"v":72.6,"g":"R"},{"w":692,"v":67,"g":"R"},{"w":685,"v":62,"g":"R"},{"w":678,"v":58,"g":"R"},{"w":672,"v":55.9,"g":"R"},{"w":665,"v":58.5,"g":"R"},{"w":658,"v":62,"g":"R"},{"w":650,"v":62.6,"g":"R"},{"w":642,"v":58.5,"g":"R"},{"w":635,"v":54.5,"g":"R"},{"w":628,"v":51.5,"g":"R"},{"w":620,"v":49.2,"g":"R"}]
},
"spacing":61.7,
"bounds":"flush",
"hconcat":[
{"width":480,"height":404.7,
"view":{"stroke":"#6e6e6e","strokeWidth":1.5},
"encoding":{"x":{"field":"t","type":"quantitative","scale":{"domain":[5,40],"nice":false,"zero":false},"axis":{"values":[10,20,30,40],"format":"d","tickSize":9,"labelPadding":5,"title":"2θ (°)","titleFontSize":21,"titleY":51.8,"titleBaseline":"middle"}},
"y":{"field":"v","type":"quantitative","scale":{"domain":[0,404.7],"nice":false,"zero":false},"axis":{"ticks":false,"labels":false,"title":"Intensity (a.u.)","titleFontSize":23,"titleX":-33.1,"titleY":230.7,"titleBaseline":"middle"}}},
"layer":[
{"data":{"name":"xzhn"},"mark":{"type":"line","color":"#1c1cff","strokeWidth":1.4}},
{"data":{"name":"xcar"},"mark":{"type":"line","color":"#ff0000","strokeWidth":1.1}},
{"data":{"name":"xcoc"},"mark":{"type":"line","color":"#000000","strokeWidth":1.2}},
{"data":{"values":[{"t":5,"v":0,"v2":-5},{"t":15,"v":0,"v2":-5},{"t":25,"v":0,"v2":-5},{"t":35,"v":0,"v2":-5}]},"mark":{"type":"rule","color":"#333","strokeWidth":1.5},"encoding":{"y2":{"field":"v2"}}},
{"data":{"values":[{"t":8.82,"v":275,"txt":"(200)"},{"t":17.94,"v":208.2,"txt":"(400)"},{"t":32.09,"v":194,"txt":"(002)"},{"t":33.42,"v":193.7,"txt":"(021)"}]},"mark":{"type":"text","angle":270,"fontSize":20,"color":"#111","align":"center","baseline":"middle"},"encoding":{"text":{"field":"txt"}}},
{"data":{"values":[{"t":37.47,"v":185.7,"txt":"(ZHN)"},{"t":34.35,"v":122.4,"txt":"(ZHN-carmine)"},{"t":32.9,"v":43.2,"txt":"(Cochineal Carmine)"}]},"mark":{"type":"text","fontSize":21,"color":"#111","align":"center","baseline":"middle"},"encoding":{"text":{"field":"txt"}}},
{"data":{"values":[{"t":37.78,"v":369.7,"txt":"(a)"}]},"mark":{"type":"text","fontSize":27,"fontWeight":"bold","color":"#111","align":"center","baseline":"middle"},"encoding":{"text":{"field":"txt"}}}
]},
{"width":464,"height":397.5,
"view":{"stroke":null},
"encoding":{"x":{"field":"w","type":"quantitative","scale":{"domain":[4000,2709,2000,620],"range":[0,135.6,145.2,464],"nice":false,"zero":false},"axis":{"values":[4000,3500,3000,2000,1500,1000],"format":"d","tickSize":6,"labelPadding":7.3,"title":"Wave number (cm⁻¹)","titleFontSize":21.5,"titleX":235,"titleY":60.5,"titleBaseline":"middle"}},
"y":{"field":"v","type":"quantitative","scale":{"domain":[0,397.5],"nice":false,"zero":false},"axis":{"domain":false,"ticks":false,"labels":false,"title":"Transmitance (a.u.)","titleFontSize":23.5,"titleX":-33.3,"titleY":215.8,"titleBaseline":"middle"}}},
"layer":[
{"data":{"values":[{"w":4000,"w2":620,"v":395.5,"v2":395.5},{"w":4000,"w2":4000,"v":0,"v2":395.5}]},"mark":{"type":"rule","color":"#6e6e6e","strokeWidth":1.5},"encoding":{"x2":{"field":"w2"},"y2":{"field":"v2"}}},
{"data":{"name":"fzhn"},"mark":{"type":"line","color":"#1c1cff","strokeWidth":1.3,"clip":true},"encoding":{"detail":{"field":"g"}}},
{"data":{"name":"fcar"},"mark":{"type":"line","color":"#ff0000","strokeWidth":1.3,"clip":true},"encoding":{"detail":{"field":"g"}}},
{"data":{"name":"fcoc"},"mark":{"type":"line","color":"#000000","strokeWidth":1.3,"clip":true},"encoding":{"detail":{"field":"g"}}},
{"data":{"values":[{"w":3750,"v":0,"v2":-3},{"w":3250,"v":0,"v2":-3},{"w":1750,"v":0,"v2":-3},{"w":1250,"v":0,"v2":-3},{"w":750,"v":0,"v2":-3}]},"mark":{"type":"rule","color":"#333","strokeWidth":1.5},"encoding":{"y2":{"field":"v2"}}},
{"data":{"values":[{"w":2679,"w2":2421,"v":-3,"v2":3}]},"mark":{"type":"rect","color":"white"},"encoding":{"x2":{"field":"w2"},"y2":{"field":"v2"}}},
{"data":{"values":[{"w":2755,"w2":2709,"v":-6.5,"v2":4.2},{"w":2384,"w2":1995,"v":-7.2,"v2":5.2}]},"mark":{"type":"rule","color":"#333","strokeWidth":1.3},"encoding":{"x2":{"field":"w2"},"y2":{"field":"v2"}}},
{"data":{"values":[{"w":846,"v":298.2,"txt":"(ZHN)"},{"w":1193,"v":197.8,"txt":"(ZHN-carmine)"},{"w":1445,"v":105.9,"txt":"(Cochineal Carmine)"}]},"mark":{"type":"text","fontSize":21,"color":"#111","align":"left","baseline":"middle","clip":true},"encoding":{"text":{"field":"txt"}}},
{"data":{"values":[{"w":747,"v":364.5,"txt":"(b)"}]},"mark":{"type":"text","fontSize":27,"fontWeight":"bold","color":"#111","align":"center","baseline":"middle","clip":true},"encoding":{"text":{"field":"txt"}}}
]}
]
}
